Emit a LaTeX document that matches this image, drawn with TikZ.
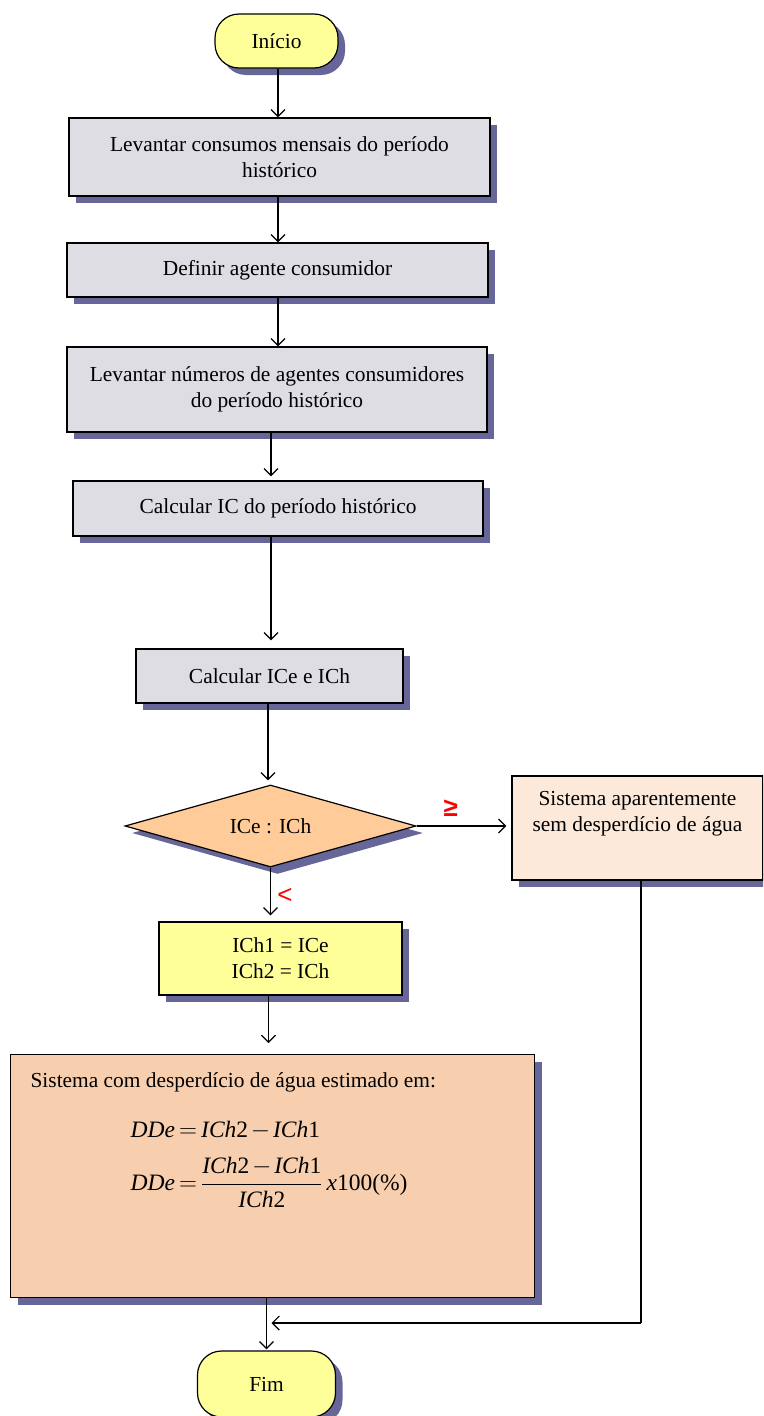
\documentclass[tikz,border=0pt]{standalone}
\usepackage{fontspec}
\setmainfont{Liberation Serif}
\newfontfamily\signfont{Liberation Sans}
\usetikzlibrary{shapes.geometric,shadows,arrows.meta}

\definecolor{shadowblue}{RGB}{102,102,153}
\definecolor{termyellow}{RGB}{255,255,153}
\definecolor{boxgray}{RGB}{221,221,227}
\definecolor{decorange}{RGB}{255,204,153}
\definecolor{peachlight}{RGB}{253,233,218}
\definecolor{peach}{RGB}{248,207,174}

\newcommand{\ich}[1]{\textit{ICh}\textrm{#1}}

\begin{document}
\begin{tikzpicture}[
                            x=1pt, y=-1pt,
                            >={Straight Barb[length=7pt,width=14pt]},
                            line width=1.2pt,
                            every node/.style={font=\fontsize{21.4}{26}\selectfont},
                            boxshadow/.style={drop shadow={shadow xshift=7pt, shadow yshift=-7pt, fill=shadowblue, opacity=1}},
                            terminal/.style={rectangle, rounded corners=24pt, draw, fill=termyellow, boxshadow, minimum height=54pt},
                            process/.style={rectangle, draw, fill=boxgray, boxshadow, align=center, inner sep=0pt},
                            decision/.style={diamond, aspect=3.5, draw, fill=decorange, boxshadow, inner sep=0pt},
                            sign/.style={text=red, font=\signfont\fontsize{26}{26}\selectfont},
                            signbold/.style={sign, font=\signfont\bfseries\fontsize{26}{26}\selectfont}
                        ]
                        \clip (0,0) rectangle (763,1416);
                        % Blocks
                        \node [terminal, minimum width=123pt] (inicio) at (276.5,41) {Início};
                        \node [process, minimum width=421pt, minimum height=78pt] (consumos) at (279.5,157) {Levantar consumos mensais do período\\histórico};
                        \node [process, minimum width=421pt, minimum height=54pt] (agente) at (277.5,270) {Definir agente consumidor};
                        \node [process, minimum width=420pt, minimum height=85pt] (numeros) at (277,389.5) {Levantar números de agentes consumidores\\do período histórico};
                        \node [process, minimum width=410pt, minimum height=55pt] (calcIC) at (278,508.5) {Calcular IC do período histórico};
                        \node [process, minimum width=267pt, minimum height=54pt] (calcICe) at (269.5,676) {Calcular ICe e ICh};
                        \node [decision, minimum width=291pt, minimum height=82pt] (compara) at (270.5,826) {ICe : ICh};
                        \node [process, fill=peachlight, inner ysep=10pt, minimum width=251pt] (semdesp) at (637.5,828) {\parbox[c][84pt][t]{244pt}{\vspace*{5pt}\centering Sistema aparentemente\\sem desperdício de água}};
                        \node [process, fill=termyellow, minimum width=243pt, minimum height=73pt] (atribui) at (280.5,958.5) {ICh1 = ICe\\ICh2 = ICh};
                        \node [process, fill=peach, anchor=north west, inner xsep=20pt, inner ysep=14pt] (comdesp) at (10,1054) {\parbox[c][215pt][t]{484pt}{\vspace*{4pt}Sistema com desperdício de água estimado em:\par\vspace{22pt}
                            \fontsize{23.5}{28}\selectfont\thickmuskip=3mu\medmuskip=2mu
                            \hspace*{100pt}$\textit{DDe}=\ich{2}-\ich{1}$\par\vspace{17pt}
                            \hspace*{100pt}$\displaystyle\textit{DDe}=\frac{\ich{2}-\ich{1}}{\ich{2}}\,\textit{x}\textrm{100(\%)}$}};
                        \node [terminal, minimum width=138pt, minimum height=66pt] (fim) at (266.5,1384) {Fim};
                        \coordinate (retorno) at (641,1323);

                        % Connections
                        \draw [->] ([xshift=1.5pt]inicio.south) -- ([xshift=1.5pt]inicio.south |- consumos.north);
                        \draw [->] ([xshift=-1.5pt]consumos.south) -- ([xshift=-1.5pt]consumos.south |- agente.north);
                        \draw [->] ([xshift=0.5pt]agente.south) -- ([xshift=0.5pt]agente.south |- numeros.north);
                        \draw [->, shorten >=4pt] ([xshift=-6pt]numeros.south) -- ([xshift=-6pt]numeros.south |- calcIC.north);
                        \draw [->, shorten >=8pt] ([xshift=1.5pt]calcIC.south -| calcICe.north) -- ([xshift=1.5pt]calcICe.north);
                        \draw [->, shorten >=4pt] ([xshift=-1.5pt]calcICe.south) -- ([xshift=-1.5pt]calcICe.south |- compara.north);
                        \draw [->, shorten >=5pt] (compara.east) --node[signbold, above=6pt, pos=0.36]{≥} (semdesp.west |- compara.east);
                        \draw [->, shorten >=6pt] (compara.south) --node[sign, right=3pt, pos=0.52]{<} (compara.south |- atribui.north);
                        \draw [->, shorten >=11pt] ([xshift=-12pt]atribui.south) -- ([xshift=-12pt]atribui.south |- comdesp.north);
                        \draw [->, shorten >=1pt] (comdesp.south -| fim.north) -- (fim.north);
                        \draw (semdesp.south -| retorno) -- (retorno);
                        \draw [->, shorten >=5pt] (retorno) -- (retorno -| fim.north);
                    \end{tikzpicture}
\end{document}
